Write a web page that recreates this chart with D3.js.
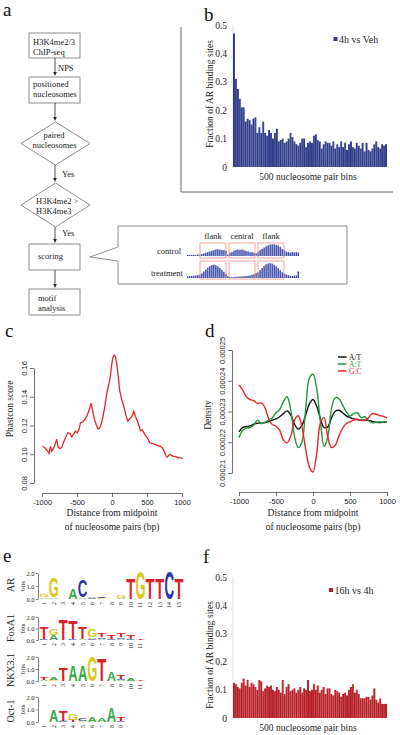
<!DOCTYPE html>
<html><head><meta charset="utf-8">
<script src="https://cdn.jsdelivr.net/npm/d3@7/dist/d3.min.js"></script>
<style>body{margin:0;background:#fff}svg{display:block}</style>
</head><body>
<svg id="fig" width="400" height="735"></svg>
<script>
// ================= DATA =================
const barTicks = [0, 0.1, 0.2, 0.3, 0.4, 0.5];
const barTickLabels = ["0", "0.1", "0.2", "0.3", "0.4", "0.5"];
const barXLabel = "500 nucleosome pair bins";
const barYLabel = "Fraction of AR binding sites";
const bSeriesName = "4h vs Veh";
const fSeriesName = "16h vs 4h";
const b4hVsVeh = [0.47,0.31,0.275,0.24,0.21,0.21,0.16,0.17,0.165,0.15,0.17,0.175,0.12,0.14,0.12,0.16,0.12,0.11,0.13,0.12,
  0.10,0.12,0.135,0.09,0.095,0.10,0.085,0.09,0.10,0.12,0.105,0.09,0.08,0.075,0.085,0.10,0.10,0.07,0.085,0.09,
  0.085,0.11,0.115,0.095,0.09,0.065,0.08,0.09,0.085,0.085,0.075,0.09,0.065,0.08,0.07,0.09,0.07,0.085,0.06,0.08,
  0.09,0.07,0.065,0.085,0.075,0.065,0.085,0.055,0.085,0.06,0.055,0.065,0.08,0.09,0.07,0.065,0.08,0.075,0.08];
const f16hVs4h = [0.125,0.12,0.11,0.105,0.125,0.14,0.115,0.135,0.11,0.125,0.12,0.11,0.10,0.135,0.13,0.095,0.105,0.115,0.11,0.115,
  0.10,0.095,0.11,0.10,0.09,0.135,0.085,0.11,0.12,0.095,0.10,0.105,0.09,0.10,0.11,0.09,0.105,0.10,0.135,0.095,
  0.10,0.12,0.10,0.115,0.09,0.10,0.11,0.085,0.105,0.105,0.085,0.08,0.10,0.095,0.09,0.075,0.085,0.09,0.08,0.10,
  0.11,0.12,0.09,0.10,0.085,0.07,0.07,0.07,0.075,0.075,0.065,0.08,0.105,0.065,0.055,0.07,0.05,0.05,0.05];

const distTicks = [-1000, -500, 0, 500, 1000];
const distLabel1 = "Distance from midpoint";
const distLabel2 = "of nucleosome pairs (bp)";

// panel c: phastCons score
const phastTicks = [0.08, 0.10, 0.12, 0.14, 0.16];
const phastX = [-990,-975,-950,-925,-900,-880,-860,-840,-820,-790,-770,-745,-720,-690,-660,-630,-600,-575,-550,-520,-495,-470,-450,-420,-390,-360,-330,-300,-275,-250,-225,-200,-180,-160,-130,-100,-75,-50,-30,-10,10,30,50,70,90,110,140,170,200,225,250,280,310,335,360,385,405,430,455,480,510,540,570,600,630,660,690,720,745,770,790,815,840,870,900,930,955,980,1010];
const phastY = [0.1055,0.1050,0.1040,0.1025,0.1005,0.1055,0.1020,0.1035,0.1060,0.1105,0.1050,0.1040,0.1045,0.1085,0.1120,0.1150,0.1145,0.1120,0.1140,0.1160,0.1150,0.1175,0.1220,0.1225,0.1240,0.1265,0.1300,0.1355,0.1300,0.1240,0.1205,0.1175,0.1180,0.1200,0.1260,0.1340,0.1420,0.1480,0.1520,0.1600,0.1670,0.1690,0.1680,0.1620,0.1540,0.1440,0.1380,0.1330,0.1270,0.1230,0.1245,0.1260,0.1300,0.1265,0.1235,0.1200,0.1165,0.1170,0.1150,0.1130,0.1110,0.1080,0.1075,0.1070,0.1065,0.1060,0.1055,0.1045,0.1020,0.0990,0.0980,0.0995,0.0995,0.0985,0.0985,0.0980,0.0975,0.0975,0.0970];

// panel d: density
const densTicks = [0.00021, 0.00022, 0.00023, 0.00024, 0.00025];
const densX = [-1000,-950,-900,-850,-800,-750,-700,-650,-600,-550,-500,-450,-400,-350,-300,-250,-200,-150,-100,-50,0,50,100,150,200,250,300,350,400,450,500,550,600,650,700,750,800,850,900,950,1000];
const densAT = [2234,2248,2251,2253,2259,2262,2262,2264,2267,2272,2276,2283,2293,2302,2288,2259,2243,2255,2288,2324,2339,2317,2277,2248,2250,2280,2301,2304,2296,2286,2280,2276,2274,2272,2272,2271,2268,2265,2264,2265,2266].map(v => v * 1e-7);
const densApT = [2215,2239,2246,2248,2256,2272,2261,2265,2272,2280,2296,2306,2332,2348,2304,2219,2183,2201,2304,2408,2421,2375,2266,2187,2217,2310,2345,2342,2321,2299,2285,2293,2296,2280,2283,2270,2263,2265,2266,2266,2266].map(v => v * 1e-7);
const densGpC = [2386,2370,2348,2339,2335,2326,2328,2313,2277,2258,2252,2239,2207,2198,2220,2272,2286,2250,2179,2120,2103,2163,2263,2280,2217,2183,2190,2220,2245,2261,2266,2272,2274,2272,2270,2280,2293,2291,2287,2284,2279].map(v => v * 1e-7);
const densNames = ["A/T", "A:T", "G:C"];

// panel a: scoring schematic profiles (56 bins)
const controlProfile = [0.08,0.1,0.08,0.1,0.08,0.12,0.1,
  0.15,0.2,0.25,0.3,0.35,0.4,0.45,0.5,0.52,0.5,0.48,0.45,0.4,
  0.1,
  0.25,0.3,0.4,0.45,0.5,0.48,0.5,0.45,0.4,0.35,0.3,0.3,0.25,
  0.2,0.3,
  0.45,0.55,0.65,0.75,0.82,0.88,0.9,0.9,0.85,0.8,0.7,0.55,0.45,
  0.35,0.3,0.25,0.3,0.28,0.3,0.25];
const treatmentProfile = [0.12,0.15,0.15,0.18,0.2,0.22,0.25,
  0.35,0.5,0.65,0.8,0.92,1.0,1.02,0.98,0.9,0.78,0.62,0.48,0.32,
  0.15,
  0.08,0.06,0.08,0.1,0.1,0.12,0.12,0.14,0.15,0.18,0.2,0.25,0.3,
  0.38,0.45,
  0.6,0.78,0.92,1.05,1.12,1.15,1.1,1.02,0.9,0.75,0.6,0.45,0.35,
  0.28,0.22,0.18,0.15,0.18,0.2,0.5];

// panel e: motif logos, letter stacks bottom -> top, in bits
const logoTicks = [0, 1, 2];
const logoTickLabels = ["0.0", "1.0", "2.0"];
const logoNames = ["AR", "FoxA1", "NKX3.1", "Oct-1"];
const logoAR = [
  [["A",0.12],["G",0.22]], [["A",0.1],["G",1.5]], [["G",0.03]], [["A",0.75]], [["A",0.1],["C",1.35]],
  [["C",0.06],["A",0.12]], [["G",0.04],["T",0.05],["C",0.08]], [["A",0.03]], [["A",0.08],["G",0.18]],
  [["T",1.6]], [["G",2.15]], [["T",1.6]], [["T",1.6]], [["C",2.15]], [["T",1.6]]];
const logoFoxA1 = [
  [["C",0.05],["T",1.0]], [["A",0.42],["G",0.55]], [["T",1.75]], [["C",0.05],["T",1.6]], [["A",0.08],["T",0.95]],
  [["C",0.1],["A",0.15],["G",0.62]], [["A",0.1],["C",0.15],["T",0.3]], [["C",0.1],["T",0.3]],
  [["A",0.1],["C",0.15],["T",0.3]], [["C",0.05],["T",0.35]], [["T",0.05]]];
const logoNKX31 = [
  [["A",0.1],["T",0.15]], [["G",0.08],["A",0.17]], [["T",1.05]], [["A",1.25]], [["A",1.25]],
  [["G",2.1]], [["T",1.85]], [["A",0.7]], [["A",0.05],["C",0.1],["T",0.35]], [["A",0.2]], [["T",0.05]]];
const logoOct1 = [
  [["A",0.03]], [["A",0.95]], [["C",0.05],["A",0.05],["T",0.85]], [["T",0.15],["G",0.55]], [["G",0.05],["C",0.25]],
  [["A",0.4]], [["A",0.3]], [["A",1.15]], [["C",0.05],["T",0.35]]];
const logoData = [logoAR, logoFoxA1, logoNKX31, logoOct1];

// ================= DRAW =================
const SERIF = "'Liberation Serif','Times New Roman',serif";
const SANS = "'Liberation Sans',Arial,sans-serif";
const svg = d3.select("#fig");

function panelLetter(t, x, y) {
  svg.append("text").text(t).attr("x", x).attr("y", y).attr("font-family", SERIF).attr("font-size", 19).attr("fill", "#111");
}
panelLetter("a", 3, 16); panelLetter("b", 204, 21);
panelLetter("c", 5, 337); panelLetter("d", 205, 337);
panelLetter("e", 3, 562); panelLetter("f", 203, 563);

// ---------- panel a: flowchart ----------
const fc = svg.append("g").attr("font-family", SERIF).attr("font-size", 8.5).attr("fill", "#222");
const gStroke = "#707070";
function box(x, y, w, h) {
  fc.append("rect").attr("x", x).attr("y", y).attr("width", w).attr("height", h)
    .attr("fill", "none").attr("stroke", gStroke).attr("stroke-width", 0.8);
}
function diamond(cx, cy, rx, ry) {
  fc.append("path").attr("d", `M${cx - rx},${cy}L${cx},${cy - ry}L${cx + rx},${cy}L${cx},${cy + ry}Z`)
    .attr("fill", "none").attr("stroke", gStroke).attr("stroke-width", 0.8);
}
function arrow(x, y1, y2) {
  fc.append("line").attr("x1", x).attr("x2", x).attr("y1", y1).attr("y2", y2 - 3).attr("stroke", "#222").attr("stroke-width", 0.8);
  fc.append("path").attr("d", `M${x},${y2}L${x - 1.8},${y2 - 4}L${x + 1.8},${y2 - 4}Z`).attr("fill", "#222");
}
function txt(t, x, y, anchor) {
  fc.append("text").text(t).attr("x", x).attr("y", y).attr("text-anchor", anchor || "start");
}
box(29, 33, 51, 25); box(29, 77, 51, 26); box(29, 244, 51, 26); box(29, 289, 51, 26);
diamond(55.5, 143.5, 34.5, 21.5); diamond(55.5, 205, 34.5, 22);
arrow(55, 58, 76); arrow(55, 103, 121); arrow(55, 165, 182); arrow(55, 227, 243); arrow(55, 270, 288);
txt("H3K4me2/3", 33, 45); txt("ChIP-seq", 33, 55);
txt("NPS", 58, 71);
txt("positioned", 33, 87); txt("nucleosomes", 33, 97);
txt("paired", 54, 138, "middle"); txt("nucleosomes", 54.5, 148, "middle");
txt("Yes", 62, 177);
txt("H3K4me2 >", 36, 204); txt("H3K4me3", 36, 214);
txt("Yes", 62, 236);
txt("scoring", 38, 259);
txt("motif", 38, 301); txt("analysis", 38, 311);

fc.append("path").attr("d", "M118,247L118,226L347,226L347,284L118,284L118,261L90,257Z")
  .attr("fill", "none").attr("stroke", gStroke).attr("stroke-width", 0.8);
txt("control", 181, 254, "end"); txt("treatment", 183, 276, "end");
txt("flank", 213, 239, "middle"); txt("central", 242, 239, "middle"); txt("flank", 271, 239, "middle");
const xMini = d3.scaleBand().domain(d3.range(controlProfile.length)).range([187, 299]).paddingInner(0.3);
const hMini = d3.scaleLinear().domain([0, 1]).range([0, 13]);
[[controlProfile, 256], [treatmentProfile, 278]].forEach(([prof, base]) => {
  fc.append("g").selectAll("rect").data(prof).join("rect")
    .attr("x", (d, i) => xMini(i)).attr("width", xMini.bandwidth())
    .attr("y", d => base - Math.max(0.8, hMini(d))).attr("height", d => Math.max(0.8, hMini(d)))
    .attr("fill", "#3444a8");
});
[[243, 15], [261, 18]].forEach(([y, h]) => {
  [[200, 26], [229, 26], [258, 26]].forEach(([x, w]) => {
    fc.append("rect").attr("x", x).attr("y", y).attr("width", w).attr("height", h)
      .attr("fill", "none").attr("stroke", "#f2907e").attr("stroke-width", 0.8);
  });
});

// ---------- bar panels b and f ----------
function barPanel(values, y0, y5, colors, legendName, legY, legX, yLabelCy, xLabelY) {
  const g = svg.append("g");
  const x = d3.scaleBand().domain(d3.range(values.length)).range([233, 387]).paddingInner(0);
  const y = d3.scaleLinear().domain([0, 0.5]).range([y0, y5]);
  g.append("line").attr("x1", 233).attr("x2", 233).attr("y1", y(0)).attr("y2", y(0.5)).attr("stroke", "#d8d8d8").attr("stroke-width", 0.8);
  g.selectAll("rect.bar").data(values).join("rect").attr("class", "bar")
    .attr("x", (d, i) => x(i)).attr("width", x.bandwidth())
    .attr("y", d => y(d)).attr("height", d => y(0) - y(d))
    .attr("fill", (d, i) => colors[i % 2]);
  const ax = g.append("g").attr("transform", "translate(227,0)")
    .call(d3.axisLeft(y).tickValues(barTicks).tickFormat((d, i) => barTickLabels[i]).tickSize(0).tickPadding(0));
  ax.select(".domain").remove();
  ax.selectAll("text").attr("font-family", SERIF).attr("font-size", 9.5).attr("fill", "#222");
  g.append("text").text(barYLabel).attr("transform", `translate(213,${yLabelCy}) rotate(-90)`)
    .attr("text-anchor", "middle").attr("font-family", SERIF).attr("font-size", 9.5).attr("fill", "#222");
  g.append("text").text(barXLabel).attr("x", 308).attr("y", xLabelY)
    .attr("text-anchor", "middle").attr("font-family", SERIF).attr("font-size", 9.5).attr("fill", "#222");
  g.append("rect").attr("x", legX).attr("y", legY - 6).attr("width", 4).attr("height", 4).attr("fill", colors[0]);
  g.append("text").text(legendName).attr("x", legX + 5.5).attr("y", legY)
    .attr("font-family", SERIF).attr("font-size", 10).attr("fill", "#222");
}
svg.append("path").attr("d", "M181,27V192H393").attr("fill", "none").attr("stroke", "#666").attr("stroke-width", 1);
barPanel(b4hVsVeh, 167, 25, ["#2f3c85", "#3a4894"], bSeriesName, 43, 333.5, 94, 180);
barPanel(f16hVs4h, 718, 577, ["#b0222a", "#c02a2f"], fSeriesName, 594, 329, 655, 731);

// ---------- R-style axes helpers ----------
function rAxisBottom(g, scale, ticks, yPos) {
  const a = g.append("g").attr("transform", `translate(0,${yPos})`)
    .call(d3.axisBottom(scale).tickValues(ticks).tickFormat(d => String(d)).tickSize(4).tickSizeOuter(0).tickPadding(2.5));
  a.selectAll("path,line").attr("stroke", "#333").attr("stroke-width", 0.7);
  a.selectAll("text").attr("font-family", SANS).attr("font-size", 7.5).attr("fill", "#222");
}
function rAxisLeft(g, scale, ticks, fmt, xPos) {
  const a = g.append("g").attr("transform", `translate(${xPos},0)`)
    .call(d3.axisLeft(scale).tickValues(ticks).tickFormat(fmt).tickSize(4).tickSizeOuter(0));
  a.selectAll("path,line").attr("stroke", "#333").attr("stroke-width", 0.7);
  a.selectAll("text").attr("x", null).attr("dy", null).attr("transform", "translate(-7.5,0) rotate(-90)")
    .attr("text-anchor", "middle").attr("font-family", SANS).attr("font-size", 7.5).attr("fill", "#222");
}

// ---------- panel c ----------
const gc = svg.append("g");
const xC = d3.scaleLinear().domain([-1000, 1000]).range([42, 182]);
const yC = d3.scaleLinear().domain([0.08, 0.16]).range([483, 368]);
rAxisBottom(gc, xC, distTicks, 493);
rAxisLeft(gc, yC, phastTicks, d3.format(".2f"), 34);
gc.append("path").datum(d3.zip(phastX, phastY))
  .attr("d", d3.line().x(d => xC(d[0])).y(d => yC(d[1])))
  .attr("fill", "none").attr("stroke", "#e5262a").attr("stroke-width", 1.3);
gc.append("text").text("Phastcon score").attr("transform", `translate(12.5,409) rotate(-90)`)
  .attr("text-anchor", "middle").attr("font-family", SERIF).attr("font-size", 9.5).attr("fill", "#222");
gc.append("text").text(distLabel1).attr("x", xC(0)).attr("y", 516).attr("text-anchor", "middle")
  .attr("font-family", SERIF).attr("font-size", 9.5).attr("fill", "#222");
gc.append("text").text(distLabel2).attr("x", xC(0)).attr("y", 530).attr("text-anchor", "middle")
  .attr("font-family", SERIF).attr("font-size", 9.5).attr("fill", "#222");

// ---------- panel d ----------
const gd = svg.append("g");
const xD = d3.scaleLinear().domain([-1000, 1000]).range([239, 387]);
const yD = d3.scaleLinear().domain([0.00021, 0.00025]).range([473, 350]);
rAxisBottom(gd, xD, distTicks, 492);
rAxisLeft(gd, yD, densTicks, d3.format(".5f"), 232);
const densColors = ["#111111", "#22993c", "#e8262a"];
const densSeries = [densAT, densApT, densGpC];
const lineD = d3.line().x(d => xD(d[0])).y(d => yD(d[1])).curve(d3.curveCatmullRom);
densSeries.forEach((s, i) => {
  gd.append("path").datum(d3.zip(densX, s)).attr("d", lineD)
    .attr("fill", "none").attr("stroke", densColors[i]).attr("stroke-width", 1.4);
});
densNames.forEach((n, i) => {
  const yy = 357 + i * 7;
  gd.append("line").attr("x1", 338).attr("x2", 346.5).attr("y1", yy).attr("y2", yy).attr("stroke", densColors[i]).attr("stroke-width", 1.5);
  gd.append("text").text(n).attr("x", 349).attr("y", yy + 2.5).attr("font-family", SERIF).attr("font-size", 7.5).attr("fill", densColors[i]);
});
gd.append("text").text("Density").attr("transform", `translate(211,415) rotate(-90)`)
  .attr("text-anchor", "middle").attr("font-family", SERIF).attr("font-size", 9.5).attr("fill", "#222");
gd.append("text").text(distLabel1).attr("x", xD(0)).attr("y", 516).attr("text-anchor", "middle")
  .attr("font-family", SERIF).attr("font-size", 9.5).attr("fill", "#222");
gd.append("text").text(distLabel2).attr("x", xD(0)).attr("y", 530).attr("text-anchor", "middle")
  .attr("font-family", SERIF).attr("font-size", 9.5).attr("fill", "#222");

// ---------- panel e: logos ----------
const letterColors = { A: "#38a946", C: "#2a35a3", G: "#dcc81c", T: "#dc2226" };
const cv = document.createElement("canvas").getContext("2d");
cv.font = "bold 100px 'Liberation Sans'";
const metricCache = {};
function metrics(ch) {
  if (!metricCache[ch]) {
    const m = cv.measureText(ch);
    metricCache[ch] = { l: m.actualBoundingBoxLeft, r: m.actualBoundingBoxRight, a: m.actualBoundingBoxAscent, d: m.actualBoundingBoxDescent };
  }
  return metricCache[ch];
}
function drawLetter(g, ch, x, y, w, h) {
  if (h < 0.15) return;
  const m = metrics(ch);
  const sx = w / (m.l + m.r), sy = h / (m.a + m.d);
  g.append("text").text(ch).attr("font-family", "Liberation Sans").attr("font-weight", "bold").attr("font-size", 100)
    .attr("fill", letterColors[ch])
    .attr("transform", `translate(${x},${y}) scale(${sx},${sy}) translate(${m.l},${m.a})`);
}
const logoLayout = [ { y0: 599, y2: 573, cy: 585 }, { y0: 640, y2: 617, cy: 628 }, { y0: 681, y2: 657, cy: 670 }, { y0: 722, y2: 697, cy: 711 } ];
const xLogo = d3.scaleLinear().domain([1, 15]).range([44, 179]);
logoData.forEach((data, k) => {
  const L = logoLayout[k];
  const g = svg.append("g");
  const yL = d3.scaleLinear().domain([0, 2]).range([L.y0, L.y2]);
  const a = g.append("g").attr("transform", "translate(38,0)")
    .call(d3.axisLeft(yL).tickValues(logoTicks).tickFormat((d, i) => logoTickLabels[i]).tickSize(2).tickSizeOuter(0).tickPadding(1.5));
  a.selectAll("path,line").attr("stroke", "#333").attr("stroke-width", 0.6);
  a.selectAll("text").attr("font-family", SERIF).attr("font-size", 6.5).attr("fill", "#222");
  g.append("text").text("bits").attr("transform", `translate(25,${(L.y0 + L.y2) / 2}) rotate(-90)`)
    .attr("text-anchor", "middle").attr("font-family", SERIF).attr("font-size", 7).attr("fill", "#222");
  g.append("text").text(logoNames[k]).attr("transform", `translate(14,${L.cy}) rotate(-90)`)
    .attr("text-anchor", "middle").attr("font-family", SERIF).attr("font-size", 10).attr("fill", "#222");
  data.forEach((stack, i) => {
    const xc = xLogo(i + 1);
    let yCur = L.y0;
    stack.forEach(([ch, bits]) => {
      const h = yL(0) - yL(bits);
      drawLetter(g, ch, xc - 4.4, yCur - h, 8.8, h);
      yCur -= h;
    });
    g.append("text").text(String(i + 1)).attr("transform", `translate(${xc + 2},${L.y0 + 3}) rotate(-90)`)
      .attr("text-anchor", "end").attr("font-family", SERIF).attr("font-size", 6).attr("fill", "#222");
  });
});
</script>
</body></html>
